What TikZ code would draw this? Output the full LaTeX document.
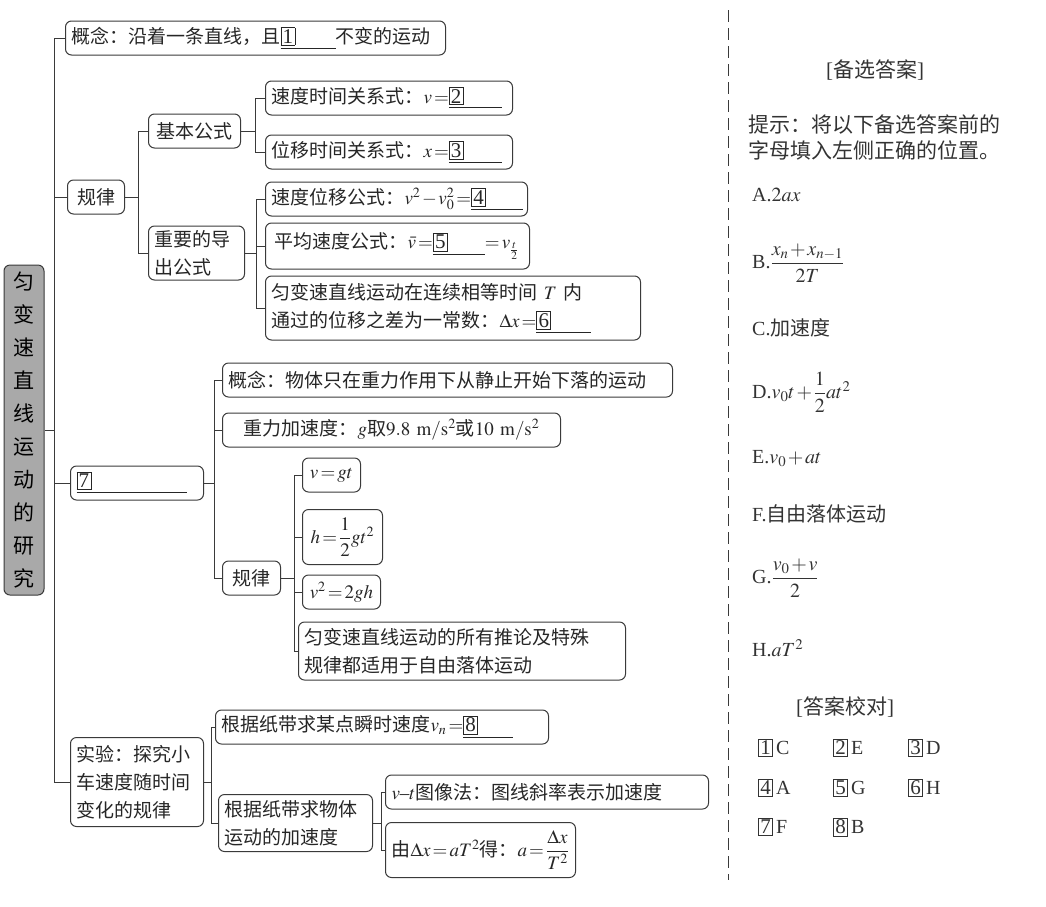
\documentclass[tikz,border=0pt]{standalone}
\usepackage{amsmath}
\usepackage{mathptmx}
\usepackage[no-math]{fontspec}
\setmainfont{Noto Sans CJK SC}
\newfontfamily\lat{Liberation Serif}
\usepackage{xcolor}

\definecolor{linec}{HTML}{3A3A3A}
\definecolor{rootfill}{HTML}{A9A9A9}

% no breaks inside formulas, tight spacing as in print
\relpenalty=10000
\binoppenalty=10000
\medmuskip=1.5mu
\thickmuskip=2mu

% boxed answer number, then a blank
\newcommand\numbox[1]{{\setlength\fboxsep{1.4pt}\setlength\fboxrule{0.7pt}\fbox{\lat\fontsize{21}{21}\selectfont #1}}}
\newcommand\blank[2]{\underline{\makebox[#2][l]{\numbox{#1}}}}

\tikzset{
  box/.style={draw=linec, line width=1pt, rounded corners=6pt, anchor=west,
              inner xsep=6pt, inner ysep=3pt, minimum height=34pt, align=left, text=black!85},
  link/.style={draw=linec, line width=1pt},
  hint/.style={anchor=west, inner sep=0pt, text=black!80},
}

\begin{document}
\begin{tikzpicture}[x=1pt, y=-1pt, font=\fontsize{19}{28}\selectfont]
\useasboundingbox (0,0) rectangle (1046,906);

% ── root ─────────────────────────────────────────────
\node[draw=linec, line width=1pt, fill=rootfill, rounded corners=6pt,
      minimum width=40pt, minimum height=330pt, inner sep=0pt, align=center,
      font=\fontsize{21}{33}\selectfont] (root) at (24,430)
     {匀\\变\\速\\直\\线\\运\\动\\的\\研\\究};

% ── branch 1: 概念 and 规律 ────────────────────────────
\node[box, text width=368pt] (gn) at (65,38) {概念：沿着一条直线，且\blank{1}{55pt}不变的运动};
\node[box, text width=45pt, align=center] (gl) at (67,197) {规律};

\node[box, text width=80pt, align=center] (jb) at (148,131) {基本公式};
\node[box, text width=84pt, minimum height=54pt] (dc) at (148,253) {重要的导\\出公式};

\node[box, text width=235pt] (vt) at (265,98) {速度时间关系式：$v=$\blank{2}{53pt}};
\node[box, text width=235pt] (xt) at (265,152) {位移时间关系式：$x=$\blank{3}{53pt}};

\node[box, text width=250pt] (vx) at (265,199) {速度位移公式：$v^2-v_0^2=$\blank{4}{52pt}};
\node[box, text width=252pt, minimum height=46pt] (pj) at (265,246)
     {\,平均速度公式：$\bar{v}=$\blank{5}{52pt}$=v_{\frac{t}{2}}$};
\node[box, text width=363pt, minimum height=64pt] (cz) at (265,308)
     {匀变速直线运动在连续相等时间 $T$ 内\\通过的位移之差为一常数：$\Delta x=$\blank{6}{55pt}};

% ── branch 2: 自由落体 ───────────────────────────────
\node[box, text width=121pt] (g7) at (70,483) {\blank{7}{110pt}};
\node[box, text width=438pt] (zg) at (222,380) {概念：物体只在重力作用下从静止开始下落的运动};
\node[box, text width=326pt, align=center] (zl) at (222,430)
     {重力加速度：$g$取$9.8\ \mathrm{m/s^2}$或$10\ \mathrm{m/s^2}$};
\node[box, text width=46pt, align=center] (gl2) at (222,578) {规律};

\node[box, text width=46pt, align=center] (f1) at (302,475) {$v=gt$};
\node[box, text width=68pt, align=center, minimum height=55pt] (f2) at (302,537) {$h=\dfrac{1}{2}gt^2$};
\node[box, text width=66pt, align=center] (f3) at (302,592) {$v^2=2gh$};
\node[box, text width=315pt, minimum height=58pt] (f4) at (298,651)
     {匀变速直线运动的所有推论及特殊\\规律都适用于自由落体运动};

% ── branch 3: 实验 ───────────────────────────────────
\node[box, text width=121pt, minimum height=89pt] (sy) at (70,782) {实验：探究小\\车速度随时间\\变化的规律};
\node[box, text width=321pt] (sd) at (215,727) {根据纸带求某点瞬时速度$v_n=$\blank{8}{50pt}};
\node[box, text width=142pt, minimum height=57pt] (jsd) at (218,823) {根据纸带求物体\\运动的加速度};
\node[box, text width=311pt] (vtf) at (385,792) {$v${\lat –}$t$图像法：图线斜率表示加速度};
\node[box, text width=178pt, minimum height=55pt] (dx) at (385,850)
     {由$\Delta x=aT^2$得：$a=\dfrac{\Delta x}{T^2}$};

% ── tree lines ───────────────────────────────────────
\coordinate (t0) at (54,430);
\draw[link] (root.east) -- (t0);
\foreach \n in {gn,gl,g7,sy} \draw[link] (t0) |- (\n.west);

\draw[link] (gl.east) -- ++(13,0) coordinate (t1);
\foreach \n in {jb,dc} \draw[link] (t1) |- (\n.west);
\draw[link] (jb.east) -- ++(14,0) coordinate (t2);
\foreach \n in {vt,xt} \draw[link] (t2) |- (\n.west);
\draw[link] (dc.east) -- ++(11,0) coordinate (t3);
\foreach \n in {vx,pj,cz} \draw[link] (t3) |- (\n.west);

\draw[link] (g7.east) -- ++(10,0) coordinate (t4);
\foreach \n in {zg,zl,gl2} \draw[link] (t4) |- (\n.west);
\draw[link] (gl2.east) -- ++(13,0) coordinate (t5);
\foreach \n in {f1,f2,f3,f4} \draw[link] (t5) |- (\n.west);

\draw[link] (sy.east) -- ++(7,0) coordinate (t6);
\foreach \n in {sd,jsd} \draw[link] (t6) |- (\n.west);
\draw[link] (jsd.east) -- ++(8,0) coordinate (t7);
\foreach \n in {vtf,dx} \draw[link] (t7) |- (\n.west);

% ── answer panel ─────────────────────────────────────
\draw[linec, line width=1pt, dash pattern=on 12pt off 6pt] (728,10) -- (728,880);

\node[text=black!80, font=\fontsize{21}{24}\selectfont] (bx) at (875,70) {{\lat[}备选答案{\lat]}};
\node[hint, align=left, font=\fontsize{21}{26}\selectfont] (ts) at (748,137)
     {提示：将以下备选答案前的\\字母填入左侧正确的位置。};

\begin{scope}[font=\fontsize{20}{24}\selectfont]
\node[hint] (oa) at (752,195) {{\lat A.}$2ax$};
\node[hint] (ob) at (752,263) {{\lat B.}$\dfrac{x_n+x_{n-1}}{2T}$};
\node[hint] (oc) at (752,328) {{\lat C.}加速度};
\node[hint] (od) at (752,392) {{\lat D.}$v_0t+\dfrac{1}{2}at^2$};
\node[hint] (oe) at (752,459) {{\lat E.}$v_0+at$};
\node[hint] (of) at (752,514) {{\lat F.}自由落体运动};
\node[hint] (og) at (752,578) {{\lat G.}$\dfrac{v_0+v}{2}$};
\node[hint] (oh) at (752,648) {{\lat H.}$aT^2$};

\node[text=black!80, font=\fontsize{21}{24}\selectfont] (jd) at (845,707) {{\lat[}答案校对{\lat]}};
\foreach \n/\l/\x/\y in {1/C/758/748, 2/E/833/748, 3/D/908/748,
                         4/A/758/788, 5/G/833/788, 6/H/908/788,
                         7/F/758/827, 8/B/833/827}
  \node[hint] (k\n) at (\x,\y) {\numbox{\n}\,{\lat \l}};
\end{scope}

\end{tikzpicture}
\end{document}
